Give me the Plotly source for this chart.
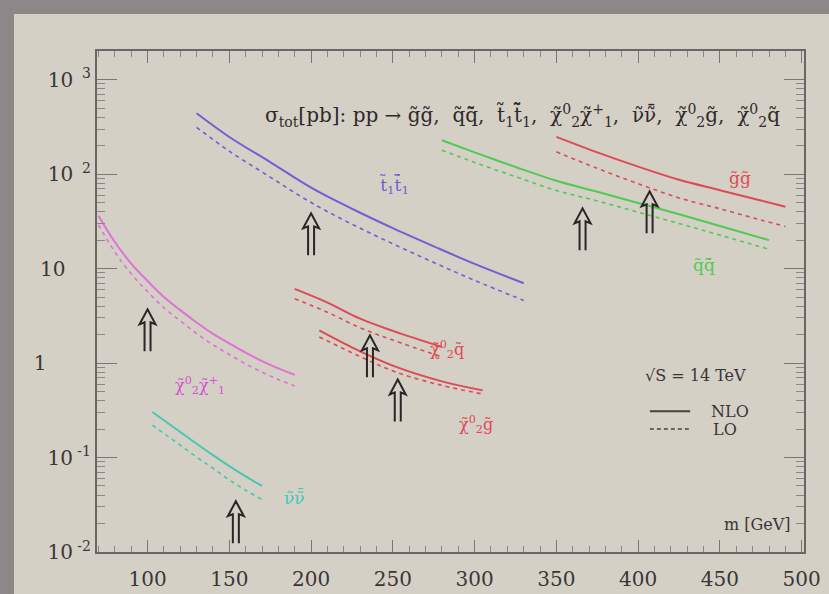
import math
import plotly.graph_objects as go

# ---------------- data ----------------
stau_m = [130, 150, 175, 200, 225, 250, 275, 300, 330]
stau_nlo = [440, 247, 134, 72, 43, 26.8, 17.2, 11.2, 7.0]
stau_lo = [313, 175, 93, 50, 29.5, 18.3, 11.6, 7.5, 4.6]

chi_m = [70, 80, 90, 100, 110, 120, 130, 140, 150, 160, 170, 180, 190]
chi_nlo = [36.3, 19.1, 11.3, 7.4, 5.0, 3.63, 2.69, 2.04, 1.62, 1.29, 1.05, 0.88, 0.75]
chi_lo = [29, 15, 8.8, 5.7, 3.85, 2.8, 2.06, 1.56, 1.23, 0.98, 0.80, 0.67, 0.57]

snu_m = [103, 110, 120, 130, 140, 150, 160, 170]
snu_nlo = [0.303, 0.248, 0.186, 0.140, 0.106, 0.081, 0.063, 0.050]
snu_lo = [0.22, 0.18, 0.135, 0.101, 0.077, 0.058, 0.045, 0.036]

x2q_m = [190, 210, 230, 250, 280]
x2q_nlo = [6.1, 4.37, 2.95, 2.19, 1.48]
x2q_lo = [4.8, 3.45, 2.36, 1.75, 1.16]

x2g_m = [205, 230, 252, 280, 305]
x2g_nlo = [2.22, 1.33, 0.91, 0.64, 0.514]
x2g_lo = [1.89, 1.17, 0.80, 0.58, 0.47]

sq_m = [280, 300, 325, 350, 375, 400, 425, 450, 480]
sq_nlo = [228, 170, 119, 85, 65, 49.5, 37.6, 28.2, 20]
sq_lo = [179, 133, 94, 67, 52, 39.5, 30, 22.6, 16]

gl_m = [350, 375, 400, 425, 450, 475, 490]
gl_nlo = [248, 170, 120, 87, 67.6, 52.5, 45.2]
gl_lo = [172, 115, 79, 56, 43, 32.7, 27.9]

arrow_m = [100, 154, 200, 236, 253, 366, 407]
arrow_sigma = [1.33, 0.0124, 13.8, 0.706, 0.241, 15.6, 23.6]

x_ticks = [100, 150, 200, 250, 300, 350, 400, 450, 500]
y_ticks = [0.01, 0.1, 1, 10, 100, 1000]
NB = "\u00a0"
y_ticktext = ["10<sup>" + NB + "-2</sup>", "10<sup>" + NB + "-1</sup>", "1" + NB * 7,
              "10" + NB * 4, "10<sup>" + NB * 2 + "2</sup>", "10<sup>" + NB * 2 + "3</sup>"]

# ---------------- styles ----------------
C_BLUE = "#6f60d4"
C_RED = "#dd4a55"
C_GREEN = "#4fcb4f"
C_PINK = "#de72d6"
C_CYAN = "#44c8b2"
TXT = "#3a3637"
SERIF = "DejaVu Serif, Liberation Serif, serif"
BEIGE = "#d5d0c6"

fig = go.Figure()


def add_pair(m, nlo, lo, color):
    fig.add_trace(go.Scatter(x=m, y=nlo, mode="lines", line=dict(color=color, width=2, shape="spline"),
                             showlegend=False, hoverinfo="skip"))
    fig.add_trace(go.Scatter(x=m, y=lo, mode="lines",
                             line=dict(color=color, width=1.6, dash="4px,4px", shape="spline"),
                             showlegend=False, hoverinfo="skip"))


add_pair(stau_m, stau_nlo, stau_lo, C_BLUE)
add_pair(chi_m, chi_nlo, chi_lo, C_PINK)
add_pair(snu_m, snu_nlo, snu_lo, C_CYAN)
add_pair(x2q_m, x2q_nlo, x2q_lo, C_RED)
add_pair(x2g_m, x2g_nlo, x2g_lo, C_RED)
add_pair(sq_m, sq_nlo, sq_lo, C_GREEN)
add_pair(gl_m, gl_nlo, gl_lo, C_RED)

shapes = []
# slide background
shapes.append(dict(type="rect", xref="paper", yref="paper", x0=-0.1174, x1=1.06, y0=-0.12, y1=1.0739,
                   fillcolor=BEIGE, line=dict(width=0), layer="below"))
# arrows (hollow double arrows)
arrow_path = "M-3,0 L-3,29 L-8,27 L0,42 L8,27 L3,29 L3,0"
for am, asg in zip(arrow_m, arrow_sigma):
    shapes.append(dict(type="path", xref="x", yref="y", xsizemode="pixel", ysizemode="pixel",
                       xanchor=am, yanchor=asg, path=arrow_path,
                       line=dict(color="#2a2526", width=2), layer="above"))
# legend lines
shapes.append(dict(type="line", xref="paper", yref="paper", x0=0.782, x1=0.839, y0=0.281, y1=0.281,
                   line=dict(color="#444", width=2)))
shapes.append(dict(type="line", xref="paper", yref="paper", x0=0.782, x1=0.839, y0=0.2455, y1=0.2455,
                   line=dict(color="#444", width=1.4, dash="4px,3px")))

ann = []


def lab(text, m, s, color, size=17, xanchor="center"):
    ann.append(dict(text=text, x=m, y=math.log10(s), xref="x", yref="y", showarrow=False,
                    xanchor=xanchor, yanchor="middle", font=dict(family=SERIF, size=size, color=color)))


SP = "," + NB * 2
lab("σ<sub>tot</sub>[pb]:" + NB + "pp" + NB + "→" + NB + "g̃g̃" + SP + "q̃q̃̄" + SP
    + "t̃<sub>1</sub>t̃̄<sub>1</sub>" + SP + "χ̃<sup>0</sup><sub>2</sub>χ̃<sup>+</sup><sub>1</sub>" + SP
    + "ν̃ν̃̄" + SP + "χ̃<sup>0</sup><sub>2</sub>g̃" + SP + "χ̃<sup>0</sup><sub>2</sub>q̃",
    488, 10 ** 2.622, "#2e2a2b", 20, "right")
lab("t̃<sub>1</sub>t̃̄<sub>1</sub>", 251, 76, C_BLUE, 17)
lab("g̃g̃", 462, 90, C_RED, 17)
lab("q̃q̃̄", 440, 10.8, C_GREEN, 17)
lab("χ̃<sup>0</sup><sub>2</sub>q̃", 283, 1.40, C_RED, 16)
lab("χ̃<sup>0</sup><sub>2</sub>g̃", 301, 0.225, C_RED, 16)
lab("χ̃<sup>0</sup><sub>2</sub>χ̃<sup>+</sup><sub>1</sub>", 132, 0.58, "#d455cf", 16)
lab("ν̃ν̃̄", 190, 0.038, C_CYAN, 17)

for text, x, y, xa in [("√S = 14 TeV", 0.772, 0.353, "left"), ("NLO", 0.865, 0.281, "left"),
                       ("LO", 0.868, 0.2455, "left"), ("m [GeV]", 0.984, 0.054, "right")]:
    ann.append(dict(text=text, x=x, y=y, xref="paper", yref="paper", showarrow=False, xanchor=xa,
                    yanchor="middle", font=dict(family=SERIF, size=16, color=TXT)))

axis_common = dict(showline=True, linecolor="#6b6666", linewidth=2, mirror="allticks", ticks="inside",
                   tickcolor="#777", showgrid=False, zeroline=False, automargin=False,
                   tickfont=dict(family=SERIF, size=20, color=TXT))

fig.update_layout(
    width=829, height=594,
    margin=dict(l=97, r=25, t=51, b=42),
    paper_bgcolor="#8e8789",
    plot_bgcolor="rgba(0,0,0,0)",
    xaxis=dict(range=[69.1, 501.4], tickmode="array", tickvals=x_ticks, ticklen=12, tickwidth=1,
               ticklabelstandoff=8,
               minor=dict(ticks="inside", ticklen=6, dtick=10, tickcolor="#888"), **axis_common),
    yaxis=dict(type="log", range=[-2, 3.303], tickmode="array", tickvals=y_ticks, ticktext=y_ticktext,
               ticklen=20, tickwidth=1,
               minor=dict(ticks="inside", ticklen=8, tickcolor="#888",
                          tickmode="array",
                          tickvals=[k * 10 ** e for e in range(-2, 4) for k in range(2, 10)]),
               **axis_common),
    shapes=shapes,
    annotations=ann,
)

fig.write_html("out.html", config={"displayModeBar": False},
               post_script="document.body.style.margin='0';document.body.style.padding='0';"
                           "document.body.style.overflow='hidden';")
